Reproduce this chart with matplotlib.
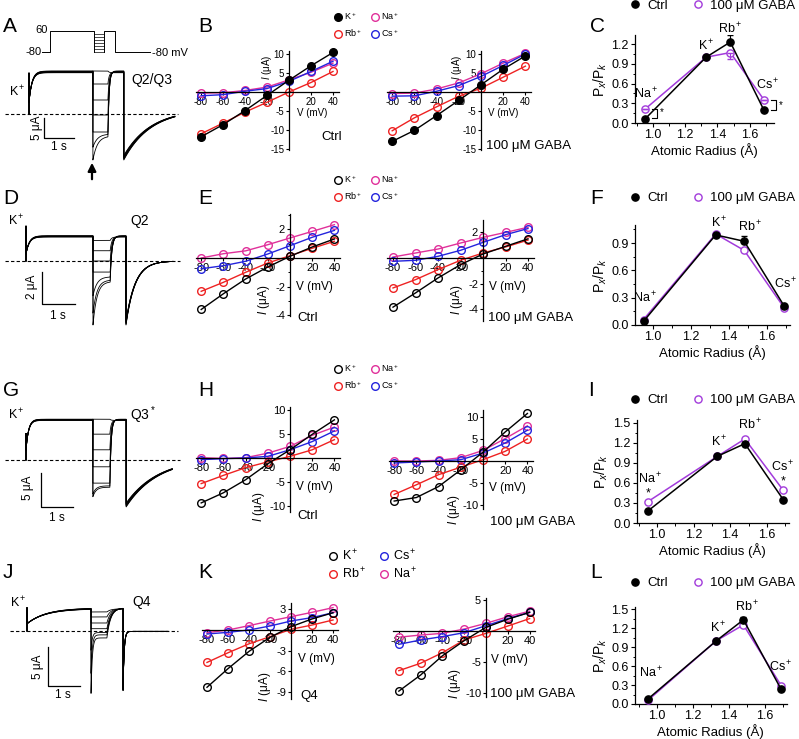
import numpy as np
import matplotlib.pyplot as plt
from matplotlib.lines import Line2D
from matplotlib.ticker import MultipleLocator, FormatStrFormatter

plt.rcParams['font.family'] = ['Liberation Sans', 'DejaVu Sans']
plt.rcParams['mathtext.fontset'] = 'custom'
plt.rcParams['mathtext.rm'] = 'Liberation Sans'
plt.rcParams['mathtext.it'] = 'Liberation Sans:italic'
plt.rcParams['axes.unicode_minus'] = False
plt.rcParams['axes.linewidth'] = 0.9

W, H = 799, 739

# ---------------- data ----------------
volts = [-80, -60, -40, -20, 0, 20, 40]

# B  (Q2/Q3), current in uA
b_ctrl_k = [-11.8, -8.6, -4.9, -0.9, 3.1, 6.9, 10.4]
b_ctrl_rb = [-11.0, -8.2, -5.3, -2.7, 0.0, 2.5, 5.4]
b_ctrl_na = [-0.3, -0.2, 0.4, 1.3, 3.2, 5.2, 7.6]
b_ctrl_cs = [-1.0, -0.7, 0.2, 0.9, 2.8, 5.4, 8.1]
b_gaba_k = [-13.0, -10.1, -6.2, -2.2, 1.9, 6.0, 9.5]
b_gaba_rb = [-10.2, -6.8, -3.9, -1.1, 1.0, 3.9, 6.8]
b_gaba_na = [-0.4, -0.3, 0.8, 2.4, 4.8, 7.6, 10.2]
b_gaba_cs = [-1.1, -1.0, 0.2, 1.7, 4.1, 7.0, 10.0]

# E  (Q2)
e_ctrl_k = [-3.6, -2.5, -1.47, -0.63, 0.12, 0.77, 1.33]
e_ctrl_rb = [-2.33, -1.7, -1.0, -0.35, 0.16, 0.68, 1.17]
e_ctrl_na = [0.0, 0.3, 0.5, 0.93, 1.4, 1.86, 2.33]
e_ctrl_cs = [-0.75, -0.54, -0.23, 0.28, 0.86, 1.45, 1.93]
e_gaba_k = [-3.84, -2.73, -1.56, -0.52, 0.31, 0.91, 1.5]
e_gaba_rb = [-2.34, -1.69, -0.91, -0.18, 0.39, 0.86, 1.4]
e_gaba_na = [0.08, 0.39, 0.7, 1.17, 1.61, 2.0, 2.4]
e_gaba_cs = [-0.26, -0.18, 0.13, 0.6, 1.22, 1.82, 2.3]

# H  (Q3*)
h_ctrl_k = [-9.3, -7.2, -4.5, -1.2, 1.7, 4.9, 7.9]
h_ctrl_rb = [-5.3, -3.6, -2.0, -0.8, 0.34, 1.7, 3.8]
h_ctrl_na = [0.07, -0.1, 0.07, 1.0, 2.4, 4.7, 6.4]
h_ctrl_cs = [-0.34, -0.14, 0.0, 0.34, 1.7, 3.4, 5.6]
h_gaba_k = [-9.1, -8.3, -5.8, -2.0, 2.0, 6.6, 10.8]
h_gaba_rb = [-7.6, -5.4, -3.1, -1.4, 0.3, 2.2, 5.0]
h_gaba_na = [0.0, 0.0, 0.15, 0.76, 2.4, 5.1, 8.0]
h_gaba_cs = [-0.45, -0.23, 0.0, 0.3, 1.8, 4.1, 7.0]

# K  (Q4)
k_ctrl_k = [-8.3, -5.6, -3.1, -1.06, 0.48, 1.6, 2.5]
k_ctrl_rb = [-4.7, -3.3, -2.0, -0.97, 0.1, 0.72, 1.45]
k_ctrl_na = [-0.39, 0.0, 0.63, 1.3, 1.93, 2.56, 3.24]
k_ctrl_cs = [-0.58, -0.34, 0.0, 0.58, 1.3, 1.8, 2.5]
k_gaba_k = [-9.7, -7.1, -4.0, -1.56, 0.6, 1.9, 3.0]
k_gaba_rb = [-6.4, -5.2, -3.5, -1.45, -0.38, 0.8, 2.0]
k_gaba_na = [-1.0, -0.65, -0.38, 0.32, 1.24, 2.3, 3.2]
k_gaba_cs = [-2.15, -1.45, -0.9, -0.27, 0.86, 2.0, 3.0]

# permeability ratios
radius = [0.95, 1.33, 1.48, 1.69]
ion_names = ['Na$^+$', 'K$^+$', 'Rb$^+$', 'Cs$^+$']
c_ctrl = [0.06, 1.0, 1.23, 0.19]
c_gaba = [0.21, 1.0, 1.07, 0.35]
f_ctrl = [0.04, 0.99, 0.92, 0.21]
f_gaba = [0.06, 1.0, 0.82, 0.19]
i_ctrl = [0.18, 1.0, 1.19, 0.35]
i_gaba = [0.32, 1.0, 1.26, 0.49]
l_ctrl = [0.08, 1.0, 1.33, 0.23]
l_gaba = [0.06, 1.0, 1.25, 0.29]
c_ctrl_err = [0, 0, 0.1, 0]
c_gaba_err = [0, 0, 0.1, 0]
f_ctrl_err = [0, 0, 0.06, 0]
l_ctrl_err = [0, 0, 0.04, 0]

# current levels during the test steps of the example traces (-80 ... 40 mV)
a_inst = [-11.5, -8.3, -4.5, -0.25, 3.5, 7.5, 10.75]
a_ss = [-5.5, -5.0, -4.5, -0.25, 3.5, 7.5, 10.75]
d_inst = [-4.05, -3.3, -2.2, -0.7, 0.0, 0.65, 1.3]
d_ss = [-1.3, -1.2, -1.0, -0.7, 0.0, 0.65, 1.3]
g_inst = [-5.4, -5.0, -3.4, -1.0, 1.5, 3.8, 6.0]
g_ss = [-4.0, -3.8, -3.4, -1.0, 1.5, 3.8, 6.0]
j_inst = [-8.1, -5.5, -2.5, 0.3, 1.04, 1.82, 2.47]
j_ss = [-0.9, -0.5, -0.2, 0.3, 1.04, 1.82, 2.47]
test_mv = [-80, -60, -40, -20, 0, 20, 40]

colors = {'K': 'black', 'Rb': '#EE2222', 'Na': '#E0309A', 'Cs': '#2424DD'}
gaba_col = '#A23BDB'

fig = plt.figure(figsize=(W / 100, H / 100), dpi=100)


def px_text(x, y, s, **kw):
    fig.text(x / W, 1 - y / H, s, **kw)


def place(x0, sx, y0, sy, xlim, ylim):
    left, right = x0 + xlim[0] * sx, x0 + xlim[1] * sx
    top, bottom = y0 - ylim[1] * sy, y0 - ylim[0] * sy
    ax = fig.add_axes([left / W, 1 - bottom / H, (right - left) / W, (bottom - top) / H])
    ax.set_xlim(xlim)
    ax.set_ylim(ylim)
    return ax


def trace_axes(t0, sx, base, sy, box):
    bx0, bx1, by0, by1 = box
    ax = place(t0, sx, base, sy, ((bx0 - t0) / sx, (bx1 - t0) / sx),
               ((base - by1) / sy, (base - by0) / sy))
    ax.axis('off')
    return ax


def draw_traces(ax, k_ss, spike, act0, act_tau, t1, t2, t3, t4, inst, ss, test_tau,
                post_tau, tail_amp, tail_tau, tail_off, act_spread, tail_spread):
    n = len(inst)
    for i in range(n):
        fa = 1 - act_spread * i / (n - 1)
        ft = 1 - tail_spread * i / (n - 1)
        ta = np.linspace(0, t1, 400)
        ia = k_ss * fa - (k_ss * fa - act0) * np.exp(-ta / act_tau)
        tt = np.linspace(t1, t2, 400)
        it = ss[i] + (inst[i] - ss[i]) * np.exp(-(tt - t1) / test_tau)
        tp = np.linspace(t2, t3, 400)
        ip = k_ss * fa + (it[-1] - k_ss * fa) * np.exp(-(tp - t2) / post_tau)
        tl = np.linspace(t3, t4, 400)
        il = tail_off + tail_amp * ft * np.exp(-(tl - t3) / tail_tau)
        t = np.concatenate([[0, 0], ta, tt, tp, tl])
        y = np.concatenate([[0, spike], ia, it, ip, il])
        ax.plot(t, y, color='k', lw=0.6)


def scale_bar(ax, t, y, amp):
    ax.plot([t, t, t + 1], [y, y - amp, y - amp], color='k', lw=0.9)


def iv_panel(x0, sx, y0, sy, ylim, series, yticks, filled_k=False, fs=8, minor=None):
    ax = place(x0, sx, y0, sy, (-85, 45), ylim)
    for name, vals in series:
        c = colors[name]
        ax.plot(volts, vals, '-o', color=c, mec=c, mfc=c if (filled_k and name == 'K') else 'none',
                ms=5.5, mew=1, lw=1, clip_on=False)
    ax.spines['left'].set_position(('data', 0))
    ax.spines['bottom'].set_position(('data', 0))
    ax.spines['top'].set_visible(False)
    ax.spines['right'].set_visible(False)
    ax.set_xticks([-80, -60, -40, -20, 20, 40])
    ax.set_yticks(yticks)
    if minor:
        ax.yaxis.set_minor_locator(MultipleLocator(minor))
    ax.tick_params(labelsize=fs, length=2.5, width=0.8, pad=1)
    ax.tick_params(which='minor', length=1.5, width=0.7)
    ax.patch.set_alpha(0)
    return ax


def iv_legend(x, y, order, filled_k, fs, spacing):
    handles, labels = [], []
    for name in order:
        c = colors[name]
        handles.append(Line2D([], [], ls='none', marker='o', mec=c, ms=5.5, mew=1,
                              mfc=c if (filled_k and name == 'K') else 'none'))
        labels.append(name + '$^+$')
    fig.legend(handles, labels, ncol=2, loc='center', bbox_to_anchor=(x / W, 1 - y / H),
               frameon=False, fontsize=fs, handletextpad=0.2, columnspacing=0.9,
               labelspacing=spacing, handlelength=1.0, borderpad=0)


def perm_panel(x0, sx, y0, sy, xlim, ylim, ctrl, gaba, yticks, ctrl_err=None,
               gaba_err=None, label_pos=None):
    ax = place(x0, sx, y0, sy, xlim, ylim)
    ax.plot(radius, gaba, '-o', color=gaba_col, mfc='white', mec=gaba_col, ms=5.2,
            mew=1, lw=1.1, clip_on=False, zorder=3)
    ax.plot(radius, ctrl, '-o', color='black', mfc='black', ms=5.2, lw=1.1,
            clip_on=False, zorder=4)
    if ctrl_err:
        ax.errorbar(radius, ctrl, yerr=[[0] * 4, ctrl_err], fmt='none', ecolor='black',
                    capsize=2, elinewidth=0.8, zorder=4)
    if gaba_err:
        ax.errorbar(radius, gaba, yerr=[gaba_err, [0] * 4], fmt='none', ecolor=gaba_col,
                    capsize=2, elinewidth=0.8, zorder=3)
    for name, (lx, ly) in zip(ion_names, label_pos):
        ax.text(lx, ly, name, fontsize=9, ha='center', va='center')
    ax.spines['top'].set_visible(False)
    ax.spines['right'].set_visible(False)
    ax.set_xticks([1.0, 1.2, 1.4, 1.6])
    ax.xaxis.set_minor_locator(MultipleLocator(0.1))
    ax.set_yticks(yticks)
    ax.yaxis.set_minor_locator(MultipleLocator(0.15))
    ax.yaxis.set_major_formatter(FormatStrFormatter('%.1f'))
    ax.xaxis.set_major_formatter(FormatStrFormatter('%.1f'))
    ax.tick_params(labelsize=9, length=3, width=0.8, pad=1.5)
    ax.tick_params(which='minor', length=1.8, width=0.7)
    ax.set_xlabel('Atomic Radius (Å)', fontsize=9.5, labelpad=1)
    ax.set_ylabel('P$_x$/P$_k$', fontsize=10, labelpad=2)
    ax.patch.set_alpha(0)
    return ax


def perm_legend(y):
    h = [Line2D([], [], ls='none', marker='o', color='black', ms=5.2),
         Line2D([], [], ls='none', marker='o', mec=gaba_col, mfc='white', ms=5.2, mew=1)]
    fig.legend(h, ['Ctrl', '100 μM GABA'], ncol=2, loc='center',
               bbox_to_anchor=(712 / W, 1 - y / H), frameon=False, fontsize=9.5,
               handletextpad=0.4, columnspacing=1.8, handlelength=1.0, borderpad=0)


# ---------------- panel letters ----------------
for letter, (x, y) in zip('ABCDEFGHIJKL',
                          [(3, 26), (198, 26), (590, 27), (3, 198), (198, 198), (590, 198),
                           (3, 391), (198, 391), (588, 390), (3, 572), (198, 572), (590, 572)]):
    px_text(x, y, letter, fontsize=15, va='center', ha='left')

# ---------------- A: protocol + traces ----------------
a_t1, a_t2, a_t3, a_t4 = 2.13, 2.63, 3.16, 4.86
pax = place(50, 20.6, 40, 0.15, ((0 - 50) / 20.6, (190 - 50) / 20.6), (-140, 150))
pax.axis('off')
pax.plot([-0.4, 0, 0, a_t1, a_t1], [-80, -80, 60, 60, -80], color='k', lw=0.7)
for v in test_mv:
    pax.plot([a_t1, a_t2], [v, v], color='k', lw=0.5)
pax.plot([a_t2, a_t2, a_t3, a_t3, a_t4], [-80, 60, 60, -80, -80], color='k', lw=0.7)
px_text(48, 30, '60', fontsize=8, ha='right', va='center')
px_text(42, 52, '-80', fontsize=8, ha='right', va='center')
px_text(152, 53, '-80 mV', fontsize=8, ha='left', va='center')

ax_a = trace_axes(29, 30, 114, 4, (0, 190, 60, 190))
draw_traces(ax_a, 10.75, 10.2, 3.0, 0.1, a_t1, a_t2, a_t3, a_t4, a_inst, a_ss, 0.15,
            0.04, -12.7, 0.9, 1.2, 0.04, 0.09)
ax_a.axhline(0, xmin=5 / 190, xmax=178 / 190, color='k', lw=0.8, ls=(0, (3, 2)))
scale_bar(ax_a, 0.5, -1, 5)
px_text(37, 128, '5 μA', fontsize=8.5, rotation=90, ha='center', va='center')
px_text(59, 147, '1 s', fontsize=8.5, ha='center', va='center')
px_text(9, 92, 'K$^+$', fontsize=9, ha='left', va='center')
px_text(131, 80, 'Q2/Q3', fontsize=10, ha='left', va='center')
fig.add_artist(plt.Annotation('', xy=(92 / W, 1 - 160 / H), xytext=(92 / W, 1 - 182 / H),
                              xycoords='figure fraction',
                              arrowprops=dict(arrowstyle='-|>', color='k', lw=1.6,
                                              mutation_scale=12)))

# ---------------- D ----------------
ax_d = trace_axes(26, 33, 261, 15.8, (0, 190, 195, 350))
draw_traces(ax_d, 1.6, 2.2, 0.45, 0.1, 2.03, 2.55, 3.03, 4.45, d_inst, d_ss, 0.12,
            0.05, -4.05, 0.28, 0.0, 0.05, 0.06)
ax_d.axhline(0, xmin=5 / 190, xmax=180 / 190, color='k', lw=0.8, ls=(0, (3, 2)))
scale_bar(ax_d, 0.48, -0.7, 2)
px_text(32, 287, '2 μA', fontsize=8.5, rotation=90, ha='center', va='center')
px_text(58, 316, '1 s', fontsize=8.5, ha='center', va='center')
px_text(8, 221, 'K$^+$', fontsize=9, ha='left', va='center')
px_text(130, 221, 'Q2', fontsize=10, ha='left', va='center')

# ---------------- G ----------------
ax_g = trace_axes(26, 32, 460, 6.8, (0, 190, 385, 540))
draw_traces(ax_g, 6.0, 3.9, 1.5, 0.08, 2.09, 2.62, 3.13, 4.57, g_inst, g_ss, 0.1,
            0.04, -7.2, 1.0, 0.3, 0.03, 0.08)
ax_g.axhline(0, xmin=5 / 190, xmax=180 / 190, color='k', lw=0.8, ls=(0, (3, 2)))
scale_bar(ax_g, 0.47, -1.9, 5)
px_text(28, 488, '5 μA', fontsize=8.5, rotation=90, ha='center', va='center')
px_text(57, 518, '1 s', fontsize=8.5, ha='center', va='center')
px_text(8, 415, 'K$^+$', fontsize=9, ha='left', va='center')
px_text(130, 415, 'Q3$^*$', fontsize=10, ha='left', va='center')

# ---------------- J ----------------
ax_j = trace_axes(27, 31.7, 631, 7.7, (0, 190, 575, 735))
draw_traces(ax_j, 3.0, 3.0, 0.95, 0.6, 2.02, 2.52, 3.03, 4.45, j_inst, j_ss, 0.04,
            0.12, -7.7, 0.035, -0.05, 0.04, 0.05)
ax_j.axhline(0, xmin=10 / 190, xmax=178 / 190, color='k', lw=0.8, ls=(0, (3, 2)))
scale_bar(ax_j, 0.66, -2.1, 5)
px_text(38, 667, '5 μA', fontsize=8.5, rotation=90, ha='center', va='center')
px_text(63, 695, '1 s', fontsize=8.5, ha='center', va='center')
px_text(10, 603, 'K$^+$', fontsize=9, ha='left', va='center')
px_text(132, 602, 'Q4', fontsize=10, ha='left', va='center')

# ---------------- IV panels ----------------
order_b = ['K', 'Rb', 'Na', 'Cs']
iv_panel(289, 1.1, 92, 3.8, (-15.3, 10.8),
         [('Na', b_ctrl_na), ('Cs', b_ctrl_cs), ('Rb', b_ctrl_rb), ('K', b_ctrl_k)],
         [-15, -10, -5, 5, 10], filled_k=True, fs=7)
iv_panel(481, 1.11, 92, 3.8, (-15.3, 10.8),
         [('Na', b_gaba_na), ('Cs', b_gaba_cs), ('Rb', b_gaba_rb), ('K', b_gaba_k)],
         [-15, -10, -5, 5, 10], filled_k=True, fs=7)
iv_legend(366, 25, order_b, True, 6.5, 0.6)
px_text(321, 137, 'Ctrl', fontsize=9.5, va='center')
px_text(486, 146, '100 μM GABA', fontsize=9.5, va='center')
px_text(297, 113, 'V (mV)', fontsize=7, va='center')
px_text(488, 113, 'V (mV)', fontsize=7, va='center')
px_text(267, 67, '$I$ (μA)', fontsize=7, rotation=90, ha='center', va='center')
px_text(457, 67, '$I$ (μA)', fontsize=7, rotation=90, ha='center', va='center')

iv_panel(290, 1.11, 258, 14.3, (-4.05, 3.05),
         [('Na', e_ctrl_na), ('Cs', e_ctrl_cs), ('Rb', e_ctrl_rb), ('K', e_ctrl_k)],
         [-4, -2, 2], minor=1)
iv_panel(483, 1.125, 258, 12.8, (-4.9, 2.95),
         [('Na', e_gaba_na), ('Cs', e_gaba_cs), ('Rb', e_gaba_rb), ('K', e_gaba_k)],
         [-4, -2, 2], minor=1)
iv_legend(366, 188, order_b, False, 6.5, 0.6)
px_text(297, 318, 'Ctrl', fontsize=9.5, va='center')
px_text(488, 318, '100 μM GABA', fontsize=9.5, va='center')
px_text(296, 287, 'V (mV)', fontsize=8.5, va='center')
px_text(489, 287, 'V (mV)', fontsize=8.5, va='center')
px_text(264, 300, '$I$ (μA)', fontsize=8.5, rotation=90, ha='center', va='center')
px_text(457, 300, '$I$ (μA)', fontsize=8.5, rotation=90, ha='center', va='center')

iv_panel(290, 1.11, 458, 4.83, (-11.2, 10.5),
         [('Na', h_ctrl_na), ('Cs', h_ctrl_cs), ('Rb', h_ctrl_rb), ('K', h_ctrl_k)],
         [-10, -5, 5, 10])
iv_panel(483, 1.11, 461, 4.4, (-10.9, 11.7),
         [('Na', h_gaba_na), ('Cs', h_gaba_cs), ('Rb', h_gaba_rb), ('K', h_gaba_k)],
         [-10, -5, 5, 10])
iv_legend(366, 377, order_b, False, 6.5, 0.6)
px_text(297, 516, 'Ctrl', fontsize=9.5, va='center')
px_text(490, 522, '100 μM GABA', fontsize=9.5, va='center')
px_text(296, 487, 'V (mV)', fontsize=8.5, va='center')
px_text(489, 488, 'V (mV)', fontsize=8.5, va='center')
px_text(259, 507, '$I$ (μA)', fontsize=8.5, rotation=90, ha='center', va='center')
px_text(454, 510, '$I$ (μA)', fontsize=8.5, rotation=90, ha='center', va='center')

iv_panel(291, 1.05, 630, 6.9, (-10.0, 3.9),
         [('Na', k_ctrl_na), ('Cs', k_ctrl_cs), ('Rb', k_ctrl_rb), ('K', k_ctrl_k)],
         [-9, -6, -3, 3])
iv_panel(486, 1.09, 631, 6.2, (-10.6, 5.3),
         [('Na', k_gaba_na), ('Cs', k_gaba_cs), ('Rb', k_gaba_rb), ('K', k_gaba_k)],
         [-10, -5, 5])
iv_legend(372, 565, ['K', 'Rb', 'Cs', 'Na'], False, 9, 0.25)
px_text(300, 696, 'Q4', fontsize=9.5, va='center')
px_text(490, 694, '100 μM GABA', fontsize=9.5, va='center')
px_text(298, 659, 'V (mV)', fontsize=8.5, va='center')
px_text(491, 660, 'V (mV)', fontsize=8.5, va='center')
px_text(265, 687, '$I$ (μA)', fontsize=8.5, rotation=90, ha='center', va='center')
px_text(455, 684, '$I$ (μA)', fontsize=8.5, rotation=90, ha='center', va='center')

# ---------------- permeability panels ----------------
ax_c = perm_panel(492, 161, 123, 65.8, (0.888, 1.75), (0, 1.34), c_ctrl, c_gaba,
                  [0.0, 0.3, 0.6, 0.9, 1.2], c_ctrl_err, c_gaba_err,
                  [(0.955, 0.45), (1.33, 1.18), (1.48, 1.43), (1.71, 0.58)])
ax_c.plot([0.995, 1.025, 1.025, 0.995], [0.22, 0.22, 0.08, 0.08], color='k', lw=0.8,
          clip_on=False)
ax_c.text(1.045, 0.16, '*', fontsize=7, ha='left', va='center')
ax_c.plot([1.735, 1.765, 1.765, 1.735], [0.35, 0.35, 0.19, 0.19], color='k', lw=0.8,
          clip_on=False)
ax_c.text(1.78, 0.27, '*', fontsize=7, ha='left', va='center', clip_on=False)
perm_legend(6)

perm_panel(463, 190, 325, 91, (0.905, 1.72), (0, 1.1), f_ctrl, f_gaba,
           [0.0, 0.3, 0.6, 0.9], f_ctrl_err, None,
           [(0.96, 0.3), (1.35, 1.12), (1.51, 1.08), (1.70, 0.45)])
perm_legend(198)

ax_i = perm_panel(474, 183, 523, 66.7, (0.89, 1.72), (0, 1.55), i_ctrl, i_gaba,
                  [0.0, 0.3, 0.6, 0.9, 1.2, 1.5], None, None,
                  [(0.96, 0.67), (1.34, 1.21), (1.51, 1.47), (1.69, 0.84)])
ax_i.text(0.95, 0.44, '*', fontsize=9, ha='center', va='center')
ax_i.text(1.69, 0.63, '*', fontsize=9, ha='center', va='center')
perm_legend(400)

perm_panel(477, 180, 704, 63.3, (0.878, 1.72), (0, 1.53), l_ctrl, l_gaba,
           [0.0, 0.3, 0.6, 0.9, 1.2, 1.5], l_ctrl_err, None,
           [(0.97, 0.49), (1.34, 1.2), (1.50, 1.53), (1.69, 0.58)])
perm_legend(583)

fig.savefig('out.png', dpi=100)
